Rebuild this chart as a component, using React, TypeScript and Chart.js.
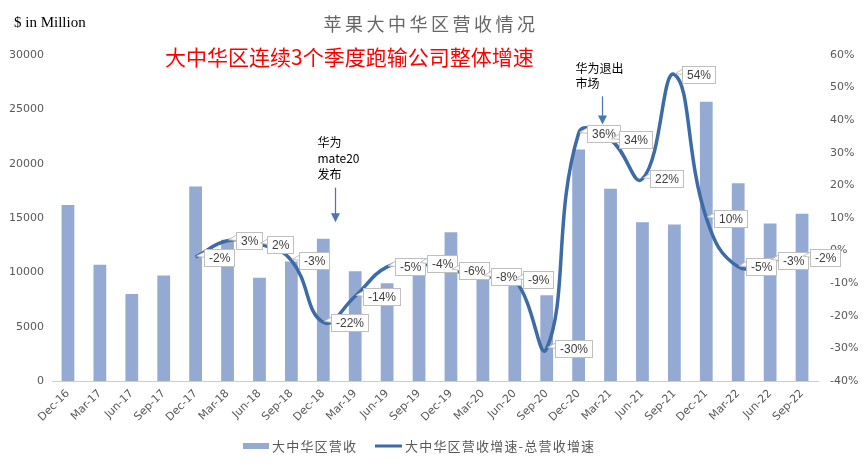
import React, { useEffect, useRef } from "react";
import { Chart, registerables } from "chart.js";

Chart.register(...registerables);

// ---------- data ----------
const categories = [
  "Dec-16", "Mar-17", "Jun-17", "Sep-17", "Dec-17", "Mar-18", "Jun-18", "Sep-18",
  "Dec-18", "Mar-19", "Jun-19", "Sep-19", "Dec-19", "Mar-20", "Jun-20", "Sep-20",
  "Dec-20", "Mar-21", "Jun-21", "Sep-21", "Dec-21", "Mar-22", "Jun-22", "Sep-22",
];

// 大中华区营收 ($ in Million)
const revenue = [
  16200, 10700, 8000, 9700, 17900, 13000, 9500, 11000,
  13100, 10100, 9000, 10800, 13700, 9600, 9000, 7900,
  21300, 17700, 14600, 14400, 25700, 18200, 14500, 15400,
];

// 大中华区营收增速-总营收增速 (%)
const growthGap: (number | null)[] = [
  null, null, null, null, -2, 3, 2, -3,
  -22, -14, -5, -4, -6, -8, -9, -30,
  36, 34, 22, 54, 10, -5, -3, -2,
];

const leftTickValues = [0, 5000, 10000, 15000, 20000, 25000, 30000];
const rightTickValues = [-40, -30, -20, -10, 0, 10, 20, 30, 40, 50, 60];

const seriesNames = ["大中华区营收", "大中华区营收增速-总营收增速"];
const titleText = "苹果大中华区营收情况";
const subtitleText = "大中华区连续3个季度跑输公司整体增速";
const unitText = "$ in Million";

const annotationCategories = ["Dec-18", "Dec-20"];
const annotationLines = [
  ["华为", "mate20", "发布"],
  ["华为退出", "市场"],
];

// ---------- styles ----------
const BAR_COLOR = "#94aad2";
const LINE_COLOR = "#3d6ba6";
const AXIS_TEXT = "#595959";
const CJK = '"Noto Sans CJK SC", "Noto Sans", sans-serif';

const overlayPlugin = {
  id: "overlay",
  afterDatasetsDraw(chart: any) {
    const ctx = chart.ctx as CanvasRenderingContext2D;
    const meta = chart.getDatasetMeta(1);
    ctx.save();
    ctx.font = '12px "Liberation Sans", sans-serif';
    ctx.textBaseline = "middle";
    ctx.textAlign = "left";
    meta.data.forEach((pt: any, i: number) => {
      const v = growthGap[i];
      if (v == null) return;
      const text = `${v}%`;
      const tw = ctx.measureText(text).width;
      const bw = Math.round(tw + 9);
      const bh = 17;
      const bx = Math.round(pt.x + 8) + 0.5;
      const by = Math.round(pt.y - bh / 2) + 0.5;
      // tail
      ctx.beginPath();
      ctx.moveTo(pt.x + 1, pt.y - 1);
      ctx.lineTo(bx + 1, by + 2);
      ctx.lineTo(bx + 1, by + 8);
      ctx.closePath();
      ctx.fillStyle = "#ffffff";
      ctx.fill();
      ctx.strokeStyle = "#bfbfbf";
      ctx.lineWidth = 1;
      ctx.stroke();
      // box
      ctx.fillStyle = "#ffffff";
      ctx.fillRect(bx, by, bw, bh);
      ctx.strokeRect(bx, by, bw, bh);
      ctx.fillStyle = "#404040";
      ctx.fillText(text, bx + 4.5, by + bh / 2 + 0.5);
    });
    ctx.restore();
  },
  afterDraw(chart: any) {
    const ctx = chart.ctx as CanvasRenderingContext2D;
    const xs = chart.scales.x;
    const ys = chart.scales.y;
    const area = chart.chartArea;
    const spacing = (area.right - area.left) / categories.length;
    ctx.save();

    // unit label
    ctx.fillStyle = "#000";
    ctx.font = '15px "Liberation Serif", serif';
    ctx.textBaseline = "middle";
    ctx.textAlign = "left";
    ctx.fillText(unitText, 6, 15);

    // title
    ctx.fillStyle = "#666666";
    ctx.font = `18px ${CJK}`;
    (ctx as any).letterSpacing = "3.5px";
    ctx.textAlign = "left";
    const tw = ctx.measureText(titleText).width;
    ctx.fillText(titleText, 423 - tw / 2, 16);
    (ctx as any).letterSpacing = "0px";

    // red subtitle
    ctx.fillStyle = "#ff0000";
    ctx.font = `21px ${CJK}`;
    ctx.fillText(subtitleText, 157, 49);

    // annotations
    const annStyle = [
      { dx: 0.375, top: 17800, tip: 14600, textDx: -18, textDy: -45, lineH: 16 },
      { dx: 0.73, top: 26200, tip: 23600, textDx: -27, textDy: -28, lineH: 15 },
    ];
    annotationCategories.forEach((cat, k) => {
      const st = annStyle[k];
      const idx = categories.indexOf(cat);
      const ax = Math.round(xs.getPixelForValue(idx) + st.dx * spacing) + 0.5;
      const ay0 = ys.getPixelForValue(st.top);
      const ay1 = ys.getPixelForValue(st.tip);
      ctx.strokeStyle = "#4a76b8";
      ctx.fillStyle = "#4a76b8";
      ctx.lineWidth = 1.25;
      ctx.beginPath();
      ctx.moveTo(ax, ay0);
      ctx.lineTo(ax, ay1 - 7);
      ctx.stroke();
      ctx.beginPath();
      ctx.moveTo(ax, ay1);
      ctx.lineTo(ax - 4.5, ay1 - 9);
      ctx.lineTo(ax + 4.5, ay1 - 9);
      ctx.closePath();
      ctx.fill();
      ctx.fillStyle = "#000";
      ctx.font = `12px ${CJK}`;
      ctx.textAlign = "left";
      ctx.textBaseline = "middle";
      annotationLines[k].forEach((ln, j) => {
        ctx.fillText(ln, ax + st.textDx, ay0 + st.textDy + j * st.lineH);
      });
    });

    // legend
    const ly = 438;
    ctx.fillStyle = BAR_COLOR;
    ctx.fillRect(235, ly - 3, 26, 6);
    ctx.fillStyle = AXIS_TEXT;
    ctx.font = `13px ${CJK}`;
    (ctx as any).letterSpacing = "1.2px";
    ctx.textBaseline = "middle";
    ctx.fillText(seriesNames[0], 264, ly);
    ctx.strokeStyle = LINE_COLOR;
    ctx.lineWidth = 3;
    ctx.beginPath();
    ctx.moveTo(367, ly);
    ctx.lineTo(394, ly);
    ctx.stroke();
    ctx.fillText(seriesNames[1], 397, ly);
    (ctx as any).letterSpacing = "0px";

    ctx.restore();
  },
};

export default function App() {
  const ref = useRef<HTMLCanvasElement | null>(null);

  useEffect(() => {
    if (!ref.current) return;
    const tickFont = { family: '"DejaVu Sans", sans-serif', size: 11 };
    const chart = new Chart(ref.current, {
      type: "bar",
      data: {
        labels: categories,
        datasets: [
          {
            type: "bar",
            label: seriesNames[0],
            data: revenue,
            backgroundColor: BAR_COLOR,
            yAxisID: "y",
            order: 2,
            categoryPercentage: 1,
            barPercentage: 0.4,
          } as any,
          {
            type: "line",
            label: seriesNames[1],
            data: growthGap,
            borderColor: LINE_COLOR,
            backgroundColor: LINE_COLOR,
            borderWidth: 3.5,
            pointRadius: 0,
            tension: 0.45,
            yAxisID: "y1",
            order: 1,
            spanGaps: false,
          } as any,
        ],
      },
      options: {
        responsive: false,
        animation: false,
        layout: { padding: { top: 47, left: 0, right: 0, bottom: 0 } },
        plugins: {
          legend: { display: false },
          title: { display: false },
          tooltip: { enabled: false },
        },
        scales: {
          x: {
            grid: { display: false, drawTicks: false },
            border: { display: true, color: "#bdd0ea", width: 1 },
            ticks: {
              color: AXIS_TEXT,
              font: tickFont,
              minRotation: 45,
              maxRotation: 45,
              autoSkip: false,
              padding: 6,
            },
            afterFit: (s: any) => {
              s.height = 78;
            },
          },
          y: {
            position: "left",
            min: leftTickValues[0],
            max: leftTickValues[leftTickValues.length - 1],
            grid: { display: false, drawTicks: false },
            border: { display: false },
            ticks: {
              stepSize: leftTickValues[1] - leftTickValues[0],
              color: AXIS_TEXT,
              font: tickFont,
              padding: 8,
              callback: (v: any) => String(v),
            },
            afterFit: (s: any) => {
              s.width = 44;
            },
          },
          y1: {
            position: "right",
            min: rightTickValues[0],
            max: rightTickValues[rightTickValues.length - 1],
            grid: { display: false, drawTicks: false },
            border: { display: false },
            ticks: {
              stepSize: rightTickValues[1] - rightTickValues[0],
              color: AXIS_TEXT,
              font: tickFont,
              padding: 12,
              callback: (v: any) => `${v}%`,
            },
            afterFit: (s: any) => {
              s.width = 40;
            },
          },
        } as any,
      },
      plugins: [overlayPlugin],
    });
    return () => chart.destroy();
  }, []);

  return <canvas ref={ref} width={850} height={451} style={{ display: "block" }} />;
}
